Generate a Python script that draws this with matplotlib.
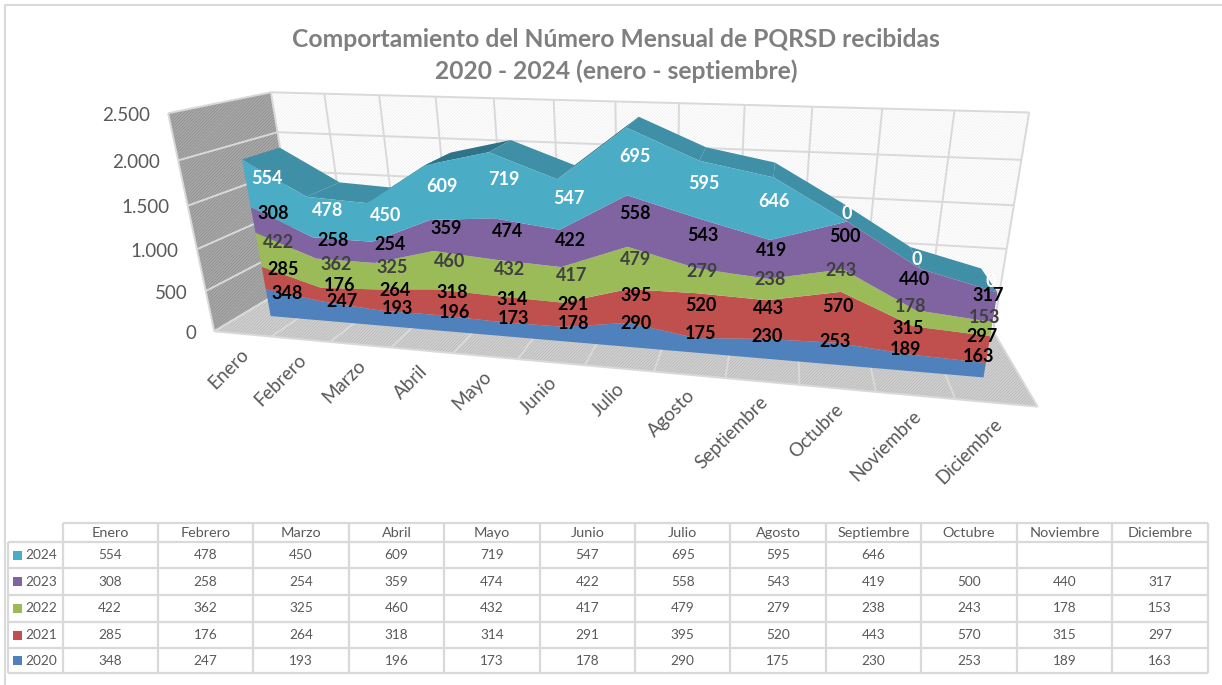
#!/usr/bin/env python3

import numpy as np
import matplotlib
matplotlib.use("Agg")
import matplotlib.pyplot as plt
from matplotlib.patches import Polygon, Rectangle

meses = ["Enero", "Febrero", "Marzo", "Abril", "Mayo", "Junio", "Julio",
         "Agosto", "Septiembre", "Octubre", "Noviembre", "Diciembre"]

v2020 = [348, 247, 193, 196, 173, 178, 290, 175, 230, 253, 189, 163]
v2021 = [285, 176, 264, 318, 314, 291, 395, 520, 443, 570, 315, 297]
v2022 = [422, 362, 325, 460, 432, 417, 479, 279, 238, 243, 178, 153]
v2023 = [308, 258, 254, 359, 474, 422, 558, 543, 419, 500, 440, 317]
v2024 = [554, 478, 450, 609, 719, 547, 695, 595, 646, None, None, None]

anios = ["2020", "2021", "2022", "2023", "2024"]
colores = ["#4f81bd", "#c0504d", "#9bbb59", "#8064a2", "#4bacc6"]
col_etiqueta = ["black", "black", "#404040", "black", "white"]
ticks_val = [0, 500, 1000, 1500, 2000, 2500]
ticks_txt = ["0", "500", "1.000", "1.500", "2.000", "2.500"]

FUENTE = "Lato"
GRIS = "#595959"
REJILLA = "#d9d9d9"
VMAX = 2500.0
Z_FRENTE, Z_FONDO = 0.30, 0.70

# esquinas de la caja 3D en pixeles: (x, z, v/vmax) -> (u, v)
esquinas = [
    ((0, 0, 0), (215, 332)), ((1, 0, 0), (1038, 405)),
    ((0, 1, 0), (301, 278)), ((1, 1, 0), (993, 333)),
    ((0, 0, 1), (167, 114)), ((0, 1, 1), (272, 92)),
    ((1, 1, 1), (1029, 112)),
]


def calibra(puntos):
    A, b = [], []
    for (x, z, y), (u, v) in puntos:
        A.append([x, y, z, 1, 0, 0, 0, 0, -u*x, -u*y, -u*z])
        b.append(u)
        A.append([0, 0, 0, 0, x, y, z, 1, -v*x, -v*y, -v*z])
        b.append(v)
    s = np.linalg.lstsq(np.array(A, float), np.array(b, float), rcond=None)[0]
    return np.append(s, 1.0).reshape(3, 4)


P = calibra(esquinas)


def proy(x, z, val):
    q = P @ np.array([x, val/VMAX, z, 1.0])
    return q[0]/q[2], q[1]/q[2]


def xmes(i):
    return (i + 0.5)/12


def poli(ax, pts, zorder=3, **kw):
    kw.setdefault("linewidth", 0)
    ax.add_patch(Polygon(pts, closed=True, zorder=zorder, **kw))


def linea(ax, pts, zorder=2, lw=1.4, color=REJILLA):
    xs, ys = zip(*pts)
    ax.plot(xs, ys, color=color, lw=lw, zorder=zorder, solid_capstyle="butt")


plt.rcParams["hatch.linewidth"] = 0.5
fig = plt.figure(figsize=(12.22, 6.85), dpi=100)
ax = fig.add_axes([0, 0, 1, 1])
ax.set_xlim(0, 1222)
ax.set_ylim(685, 0)
ax.axis("off")

# marco del grafico
linea(ax, [(5, 685), (5, 5), (1222, 5)], lw=1.5)

# paredes y piso
trama = "/"*11
poli(ax, [proy(0, 1, 0), proy(1, 1, 0), proy(1, 1, VMAX), proy(0, 1, VMAX)], zorder=1,
     facecolor="white", edgecolor="#ededed", hatch=trama)
poli(ax, [proy(0, 0, 0), proy(0, 1, 0), proy(0, 1, VMAX), proy(0, 0, VMAX)], zorder=1,
     facecolor="#ababab", edgecolor="#8a8a8a", hatch=trama)
poli(ax, [proy(0, 0, 0), proy(1, 0, 0), proy(1, 1, 0), proy(0, 1, 0)], zorder=1,
     facecolor="#d2d2d2", edgecolor="#b4b4b4", hatch=trama)

for t in ticks_val:
    linea(ax, [proy(0, 0, t), proy(0, 1, t), proy(1, 1, t)])
for k in range(13):
    linea(ax, [proy(k/12, 0, 0), proy(k/12, 1, 0), proy(k/12, 1, VMAX)])
linea(ax, [proy(0, 0, 0), proy(1, 0, 0)])
linea(ax, [proy(0, 0, 0), proy(0, 0, VMAX)])

# areas apiladas
series = [v2020, v2021, v2022, v2023, [0 if v is None else v for v in v2024]]
acum = np.cumsum(np.array(series, float), axis=0)
base = np.vstack([np.zeros(12), acum[:-1]])

tope = acum[-1]
for i in range(11):
    color = "#2f7388" if tope[i+1] > tope[i] else "#3f8fa6"
    poli(ax, [proy(xmes(i), Z_FRENTE, tope[i]), proy(xmes(i+1), Z_FRENTE, tope[i+1]),
              proy(xmes(i+1), Z_FONDO, tope[i+1]), proy(xmes(i), Z_FONDO, tope[i])],
         facecolor=color)

for s in range(5):
    arriba = [proy(xmes(i), Z_FRENTE, acum[s][i]) for i in range(12)]
    abajo = [proy(xmes(i), Z_FRENTE, base[s][i]) for i in range(12)]
    poli(ax, arriba + abajo[::-1], zorder=4, facecolor=colores[s])

for s in range(5):
    for i in range(12):
        px, py = proy(xmes(i), 0.5, base[s][i] + series[s][i]/2)
        ax.text(px + 1.5, py + 1.5, str(series[s][i]), color=col_etiqueta[s], family=FUENTE,
                weight="bold", fontsize=13, ha="center", va="center", zorder=5)

# ejes
for t, txt in zip(ticks_val, ticks_txt):
    px, py = proy(0, 0, t)
    ax.text(px - 18, py + 2, txt, color=GRIS, family=FUENTE, fontsize=13.5,
            ha="right", va="center")
for i, m in enumerate(meses):
    px, py = proy(xmes(i), 0, 0)
    ax.text(px + 3, py + 18, m, color=GRIS, family=FUENTE, fontsize=13.5, rotation=45,
            rotation_mode="anchor", ha="right", va="center")

ax.text(616, 39, "Comportamiento del Número Mensual de PQRSD recibidas", color="#7f7f7f",
        family=FUENTE, weight="bold", fontsize=17.7, ha="center", va="center")
ax.text(616, 71, "2020 - 2024 (enero - septiembre)", color="#7f7f7f",
        family=FUENTE, weight="bold", fontsize=17.7, ha="center", va="center")

# tabla de datos
x_izq, x0_tab, x_der = 7.5, 62.5, 1207.5
y_filas = [522.7, 541.7, 568.3, 595, 621.7, 648.3, 673.3]
ancho = (x_der - x0_tab)/12
for j, y in enumerate(y_filas):
    linea(ax, [(x0_tab if j == 0 else x_izq, y), (x_der, y)], lw=1.6)
for k in range(13):
    x = x0_tab + k*ancho
    linea(ax, [(x, y_filas[0]), (x, y_filas[-1])], lw=1.6)
linea(ax, [(x_izq, y_filas[1]), (x_izq, y_filas[-1])], lw=1.6)

for k, m in enumerate(meses):
    ax.text(x0_tab + (k + 0.5)*ancho, 533, m, color=GRIS, family=FUENTE, fontsize=10.4,
            ha="center", va="center")

filas = [v2024, v2023, v2022, v2021, v2020]
for j, fila in enumerate(filas):
    yc = (y_filas[j+1] + y_filas[j+2])/2
    s = 4 - j
    ax.add_patch(Rectangle((13, yc - 4.5), 9, 9, facecolor=colores[s], linewidth=0))
    ax.text(25, yc, anios[s], color=GRIS, family=FUENTE, fontsize=9.8, ha="left", va="center")
    for k, v in enumerate(fila):
        if v is not None:
            ax.text(x0_tab + (k + 0.5)*ancho, yc, str(v), color=GRIS, family=FUENTE,
                    fontsize=9.8, ha="center", va="center")

fig.savefig("out.png", dpi=100)
